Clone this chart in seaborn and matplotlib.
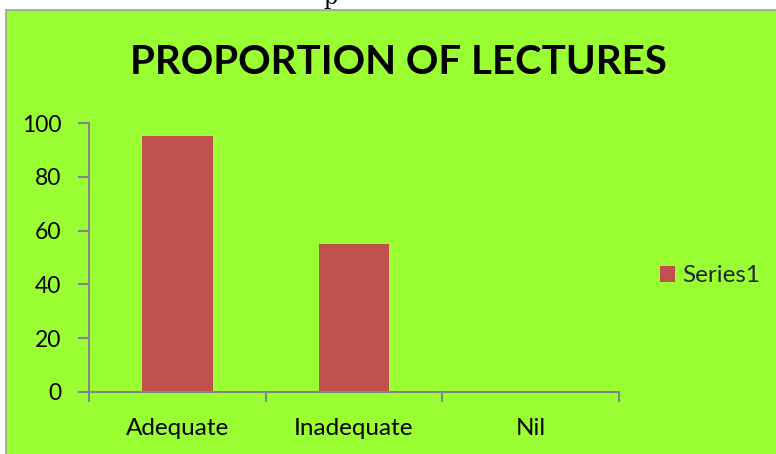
import matplotlib
matplotlib.use("Agg")
import matplotlib.pyplot as plt
import matplotlib.patches as mpatches
import seaborn as sns
import pandas as pd

categories = ["Adequate", "Inadequate", "Nil"]
values = [95, 55, 0]
series_name = "Series1"
yticks = [0, 20, 40, 60, 80, 100]

GREEN = "#99FF33"
BAR = "#C0504D"
AXC = "#868686"

sns.set_theme(style="white")
plt.rcParams["font.family"] = ["Lato", "DejaVu Sans"]

W, H = 776, 454
fig = plt.figure(figsize=(W / 100, H / 100), dpi=100)
fig.patch.set_facecolor("white")

# green chart area with border
bg = mpatches.Rectangle((6 / W, -0.01), 1 - 6 / W + 0.01, (H - 10) / H + 0.01,
                        transform=fig.transFigure, facecolor=GREEN,
                        edgecolor="#A0A0A0", linewidth=1.2, zorder=-5)
fig.patches.append(bg)

# fragment of text from the page above
fig.text(331 / W, 1 - 4 / H, "p", family="DejaVu Serif", fontsize=16,
         ha="center", va="baseline", color="black")

ax = fig.add_axes([89 / W, 62 / H, (619 - 89) / W, (392 - 123) / H])
ax.set_zorder(2)
ax.patch.set_alpha(0)

df = pd.DataFrame({"cat": categories, "val": values})
sns.barplot(data=df, x="cat", y="val", color=BAR, width=0.4, ax=ax,
            saturation=1, linewidth=0, edgecolor="none")

ax.set_xlim(-0.5, 2.5)
ax.set_ylim(0, 100)
ax.set_yticks(yticks)
ax.set_xlabel("")
ax.set_ylabel("")

for s in ["top", "right"]:
    ax.spines[s].set_visible(False)
for s in ["left", "bottom"]:
    ax.spines[s].set_color(AXC)
    ax.spines[s].set_linewidth(1.5)

ax.tick_params(axis="y", which="major", length=8, width=1.5, color=AXC,
               labelsize=16.5, pad=12, left=True)
ax.tick_params(axis="x", which="major", length=0, labelsize=17.5, pad=19)
ax.set_xticks([-0.5, 0.5, 1.5, 2.5], minor=True)
ax.tick_params(axis="x", which="minor", length=7, width=1.5, color=AXC,
               bottom=True)
for lab in ax.get_xticklabels() + ax.get_yticklabels():
    lab.set_color("black")

fig.text(398 / W, 1 - 62 / H, "PROPORTION OF LECTURES", fontsize=29,
         fontweight="bold", ha="center", va="center", color="black")

handle = mpatches.Patch(facecolor=BAR, edgecolor="none", label=series_name)
leg = fig.legend(handles=[handle], loc="center left",
                 bbox_to_anchor=(660 / W, 1 - 276 / H), frameon=False,
                 fontsize=17.5, handlelength=0.62, handleheight=0.62,
                 handletextpad=0.3, borderpad=0, borderaxespad=0)
leg.set_zorder(3)

fig.savefig("out.png", dpi=100, facecolor=fig.get_facecolor())
